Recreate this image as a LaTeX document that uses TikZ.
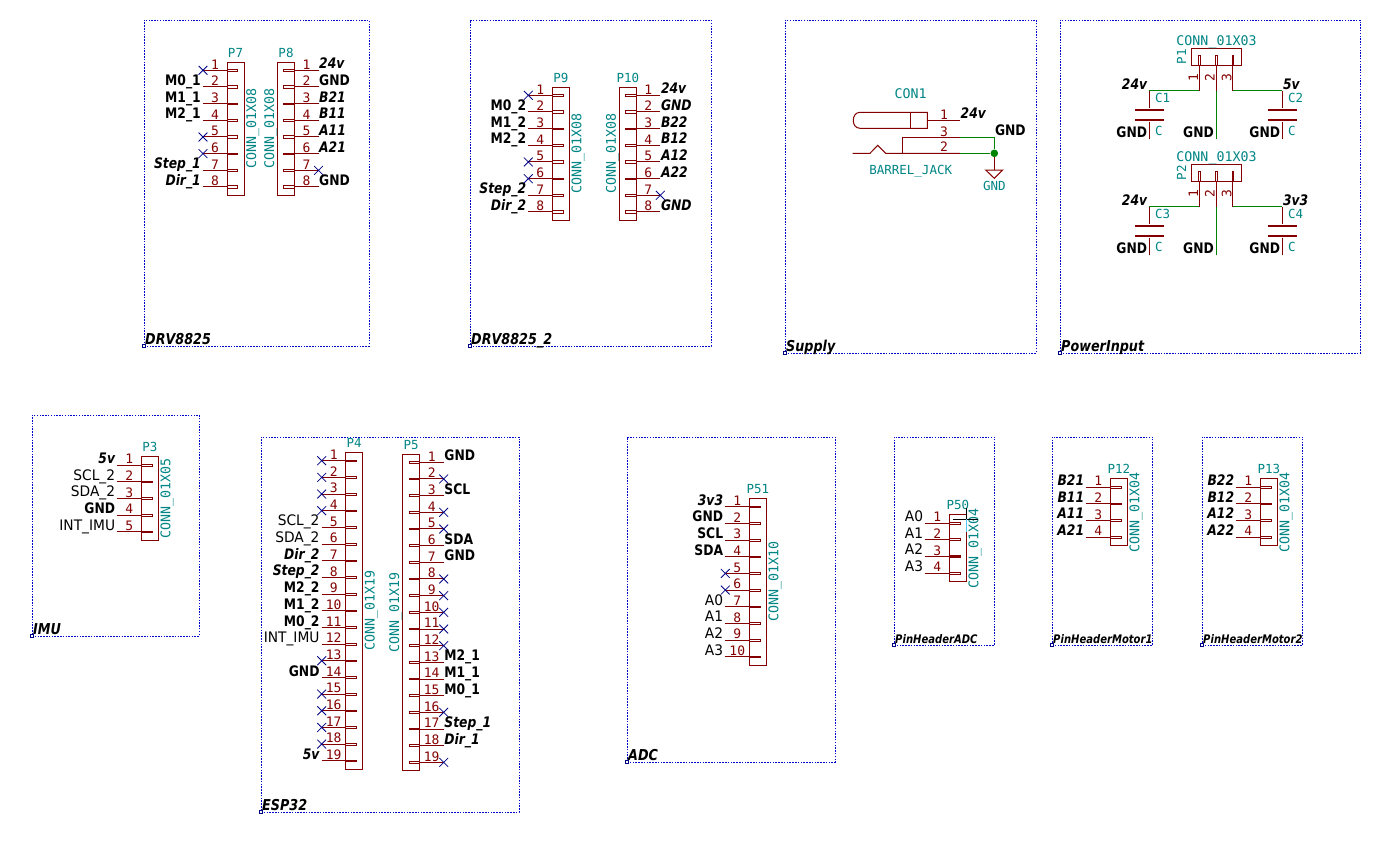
\documentclass[tikz,border=0pt]{standalone}
\usepackage{fontspec}
\setmainfont{DejaVu Sans Mono}
\newfontfamily\labfont[FakeStretch=0.85]{DejaVu Sans}
\newfontfamily\thinfont[FakeStretch=0.95]{DejaVu Sans}
\usetikzlibrary{shapes.misc}
\definecolor{schred}{HTML}{840000}
\definecolor{schteal}{HTML}{008484}
\definecolor{schgreen}{HTML}{008400}
\definecolor{schblue}{HTML}{0000C8}
\definecolor{schnavy}{HTML}{000084}

% body left x, first pin y, pins, which bars are solid (mod 3), value
\newcommand{\connleft}[6]{
    \pgfmathsetmacro\connh{#4*16.67}
    \pgfmathsetmacro\conntop{#3-8.3}
    \node(#1) [connbody, minimum width=17pt, minimum height=\connh pt]
        at (#2,\conntop) [anchor=north west] {};
    \node(#1ref) [refname] at ([yshift=5pt]#1.north) {#1};
    \node(#1val) [valname, rotate=90] at ([xshift=12pt]#1.east) {#6};
    \foreach \i in {1,...,#4} {
        \pgfmathsetmacro\piny{#3+(\i-1)*16.67}
        \pgfmathsetmacro\barkind{int(mod(\i,3))}
        \coordinate (#1-\i) at (#2-24,\piny);
        \coordinate (#1-\i-in) at (#2,\piny);
        \draw[pinline] (#1-\i) -- (#1-\i-in);
        \node(#1num\i) [pinnum] at ([yshift=1.3pt]#2-12,\piny) {\i};
        \ifnum\barkind=#5
            \node(#1bar\i) [pinbar, barfill, anchor=west] at (#1-\i-in) {};
        \else
            \node(#1bar\i) [pinbar, anchor=west] at (#1-\i-in) {};
        \fi
    }
}
\newcommand{\connright}[6]{
    \pgfmathsetmacro\connh{#4*16.67}
    \pgfmathsetmacro\conntop{#3-8.3}
    \node(#1) [connbody, minimum width=17pt, minimum height=\connh pt]
        at (#2,\conntop) [anchor=north west] {};
    \node(#1ref) [refname] at ([yshift=5pt]#1.north) {#1};
    \node(#1val) [valname, rotate=90] at ([xshift=-3.5pt]#1.west) {#6};
    \foreach \i in {1,...,#4} {
        \pgfmathsetmacro\piny{#3+(\i-1)*16.67}
        \pgfmathsetmacro\barkind{int(mod(\i,3))}
        \coordinate (#1-\i) at (#2+41,\piny);
        \coordinate (#1-\i-in) at (#2+17,\piny);
        \draw[pinline] (#1-\i-in) -- (#1-\i);
        \node(#1num\i) [pinnum] at ([yshift=1.3pt]#2+29,\piny) {\i};
        \ifnum\barkind=#5
            \node(#1bar\i) [pinbar, barfill, anchor=east] at (#1-\i-in) {};
        \else
            \node(#1bar\i) [pinbar, anchor=east] at (#1-\i-in) {};
        \fi
    }
}
\newcommand{\pinlabs}[3]{
    \foreach \i/\txt in {#3} {\node(#1lab\i) [#2] at (#1-\i) {\txt};}
}
\newcommand{\pinncs}[2]{
    \foreach \i in {#2} {\node(#1nc\i) [ncmark] at (#1-\i) {};}
}

\begin{document}
\begin{tikzpicture}[x=1pt,y=-1pt]
    \tikzstyle{sheet} = [rectangle, draw=schblue, line width=1pt, inner sep=0pt,
        outer sep=0pt, dash pattern=on 1.5pt off 1.3pt]
    \tikzstyle{sheetmark} = [rectangle, draw=schnavy, line width=0.8pt, fill=white,
        inner sep=0pt, minimum size=3.5pt]
    \tikzstyle{sheetname} = [anchor=base west, inner sep=0pt, xshift=1pt, yshift=2pt,
        font=\labfont\fontsize{15}{16}\selectfont\bfseries\itshape]
    \tikzstyle{sheetsmall} = [sheetname,
        font=\labfont\fontsize{11.8}{13}\selectfont\bfseries\itshape]
    \tikzstyle{connbody} = [rectangle, draw=schred, line width=1pt, inner sep=0pt,
        outer sep=0pt]
    \tikzstyle{refname} = [anchor=base, inner sep=0pt, text=schteal,
        font=\fontsize{12.5}{13}\selectfont]
    \tikzstyle{valname} = [refname, font=\fontsize{13.3}{14}\selectfont]
    \tikzstyle{pinline} = [draw=schred, line width=1pt]
    \tikzstyle{wire} = [draw=schgreen, line width=1pt]
    \tikzstyle{pinnum} = [anchor=base, inner sep=0pt, text=schred,
        font=\fontsize{13}{13}\selectfont]
    \tikzstyle{pinbar} = [rectangle, draw=schred, line width=0.8pt, inner sep=0pt,
        outer sep=0pt, minimum width=10.7pt, minimum height=2.2pt]
    \tikzstyle{barfill} = [fill=schred, minimum height=1.4pt]
    \tikzstyle{ncmark} = [cross out, draw=schnavy, line width=0.8pt, inner sep=0pt,
        minimum size=8pt]
    \tikzstyle{lab} = [inner sep=0pt, font=\labfont\fontsize{14.5}{15}\selectfont\bfseries]
    \tikzstyle{labit} = [lab, font=\labfont\fontsize{14.5}{15}\selectfont\bfseries\itshape]
    \tikzstyle{labthin} = [inner sep=0pt, font=\thinfont\fontsize{14.5}{15}\selectfont]
    \tikzstyle{toleft} = [anchor=base east, xshift=-2pt, yshift=1.4pt]
    \tikzstyle{toright} = [anchor=base west, xshift=0.5pt, yshift=1.4pt]
    \tikzstyle{capplate} = [rectangle, fill=schred, inner sep=0pt, minimum width=29pt,
        minimum height=2.8pt]
    \tikzstyle{junction} = [circle, fill=schgreen, inner sep=0pt, minimum size=7.6pt]

    \useasboundingbox (0,0) rectangle (1385,841);

    % sheets
    \foreach \n/\sx/\sy/\sw/\sh/\txt in {drva/144/20/225/326/DRV8825,
        drvb/470/20/241/326/DRV8825\_2, supply/785/20/251/333/Supply,
        power/1060/20/300/333/PowerInput, imu/32/415/167/221/IMU,
        esp/261/437/258/375/ESP32, adc/627/437/208/325/ADC} {
        \node(\n) [sheet, minimum width=\sw pt, minimum height=\sh pt]
            at (\sx,\sy) [anchor=north west] {};
        \node(\n name) [sheetname] at (\n.south west) {\txt};
        \node(\n mark) [sheetmark] at (\n.south west) {};
    }
    \foreach \n/\sx/\txt in {hadc/894/PinHeaderADC, hma/1052/PinHeaderMotor1,
        hmb/1202/PinHeaderMotor2} {
        \node(\n) [sheet, minimum width=100.5pt, minimum height=208pt]
            at (\sx,437) [anchor=north west] {};
        \node(\n name) [sheetsmall] at (\n.south west) {\txt};
        \node(\n mark) [sheetmark] at (\n.south west) {};
    }

    % DRV8825
    \connleft{P7}{227}{70.3}{8}{0}{CONN\_01X08}
    \pinncs{P7}{1,5,6}
    \pinlabs{P7}{lab,toleft}{2/M0\_1,3/M1\_1,4/M2\_1}
    \pinlabs{P7}{labit,toleft}{7/Step\_1,8/Dir\_1}
    \connright{P8}{277.5}{70.3}{8}{0}{CONN\_01X08}
    \pinncs{P8}{7}
    \pinlabs{P8}{lab,toright}{2/GND,8/GND}
    \pinlabs{P8}{labit,toright}{1/24v,3/B21,4/B11,5/A11,6/A21}

    % DRV8825_2
    \connleft{P9}{552.3}{95.3}{8}{0}{CONN\_01X08}
    \pinncs{P9}{1,5,6}
    \pinlabs{P9}{lab,toleft}{2/M0\_2,3/M1\_2,4/M2\_2}
    \pinlabs{P9}{labit,toleft}{7/Step\_2,8/Dir\_2}
    \connright{P10}{619.3}{95.3}{8}{0}{CONN\_01X08}
    \pinncs{P10}{7}
    \pinlabs{P10}{labit,toright}{1/24v,2/GND,3/B22,4/B12,5/A12,6/A22,8/GND}

    % Supply
    \node(CON1) [valname] at (910.7,98.3) {CON1};
    \node(CON1val) [refname] at (910.7,174.3) {BARREL\_JACK};
    \coordinate (jackend) at (927.3,120.3);
    \coordinate (jack1) at (960,120.3);
    \coordinate (jack3a) at (902.3,137.3);
    \coordinate (jack3) at (960,137.3);
    \coordinate (jack2a) at (852.7,153.3);
    \coordinate (jack2b) at (902.3,153.3);
    \coordinate (jack2) at (960,153.3);
    \coordinate (jackcorner) at (994.3,137.3);
    \coordinate (gndtop) at (994.3,170);
    \draw[pinline] (910.7,112.3) -- (910.7,128.3);
    \draw[pinline] (927.3,128.3) -- (860,128.3)
        .. controls (851,128.3) and (851,112.3) .. (860,112.3)
        -- (927.3,112.3) -- cycle;
    \draw[pinline] (jackend) -- (jack1);
    \draw[pinline] (jack2b) -- (jack3a) -- (jack3);
    \draw[pinline] (jack2a) -- (870,153.3) -- (877.7,145.3) -- (885.7,153.3) -- (jack2);
    \node(jackn1) [pinnum] at (944,119) {1};
    \node(jackn3) [pinnum] at (944,136) {3};
    \node(jackn2) [pinnum] at (944,151.7) {2};
    \node(jackgnd) [junction] at (994.3,153.3) {};
    \draw[wire] (jack3) -- (jackcorner) -- (jackgnd);
    \draw[wire] (jack2) -- (jackgnd);
    \draw[pinline] (jackgnd) -- (gndtop);
    \draw[pinline] (985.7,170) -- (1002.7,170) -- (994.3,178.3) -- cycle;
    \node(gndval) [refname] at (994.3,190.7) {GND};
    \node(jacklab1) [labit, toright] at (jack1) {24v};
    \node(jacklab2) [lab, toright] at (jackcorner) {GND};

    % PowerInput
    \foreach \conn/\ca/\cb/\volt/\dy in {P1/C1/C2/5v/0, P2/C3/C4/3v3/116} {
        \node(\conn) [connbody, minimum width=49.6pt, minimum height=16.7pt]
            at (1216.5,56.7+\dy) {};
        \node(\conn ref) [refname, rotate=90] at (1186,56.7+\dy) {\conn};
        \node(\conn val) [valname] at (1216.5,45+\dy) {CONN\_01X03};
        \foreach \i/\px in {1/1199.3,2/1216,3/1232.7} {
            \coordinate (\conn-\i) at (\px,90.7+\dy);
            \coordinate (\conn-\i-in) at (\px,65+\dy);
            \draw[pinline] (\conn-\i-in) -- (\conn-\i);
            \node(\conn num\i) [pinnum, rotate=90] at (\px-1.3,78+\dy) {\i};
            \ifnum\i=3
                \node(\conn bar\i) [pinbar, barfill, minimum width=9.5pt, rotate=90,
                    anchor=west] at (\conn-\i-in) {};
            \else
                \node(\conn bar\i) [pinbar, minimum width=9.5pt, rotate=90,
                    anchor=west] at (\conn-\i-in) {};
            \fi
        }
        \coordinate (\ca-w) at (1149.3,90.7+\dy);
        \coordinate (\cb-w) at (1282.3,90.7+\dy);
        \coordinate (\ca-g) at (1149.3,139+\dy);
        \coordinate (\cb-g) at (1282.3,139+\dy);
        \coordinate (\conn-g) at (1216,139+\dy);
        \node(\ca top) [capplate] at (1149.3,110+\dy) {};
        \node(\ca bot) [capplate] at (1149.3,120+\dy) {};
        \node(\cb top) [capplate] at (1282.3,110+\dy) {};
        \node(\cb bot) [capplate] at (1282.3,120+\dy) {};
        \draw[pinline] (\ca-w) -- (\ca top);
        \draw[pinline] (\ca bot) -- (\ca-g);
        \draw[pinline] (\cb-w) -- (\cb top);
        \draw[pinline] (\cb bot) -- (\cb-g);
        \draw[wire] (\conn-1) -- (\ca-w);
        \draw[wire] (\conn-3) -- (\cb-w);
        \draw[wire] (\conn-2) -- (\conn-g);
        \node(\ca ref) [refname, anchor=base west] at (1155,102+\dy) {\ca};
        \node(\cb ref) [refname, anchor=base west] at (1288,102+\dy) {\cb};
        \node(\ca val) [refname, anchor=base west] at (1155,135+\dy) {C};
        \node(\cb val) [refname, anchor=base west] at (1288,135+\dy) {C};
        \node(\ca lab) [labit, toleft] at (\ca-w) {24v};
        \node(\cb lab) [labit, toright] at (\cb-w) {\volt};
        \node(\ca gnd) [lab, toleft] at (\ca-g) {GND};
        \node(\conn gnd) [lab, toleft] at (\conn-g) {GND};
        \node(\cb gnd) [lab, toleft] at (\cb-g) {GND};
    }

    % IMU
    \connleft{P3}{141.3}{465}{5}{2}{CONN\_01X05}
    \pinlabs{P3}{labit,toleft}{1/5v}
    \pinlabs{P3}{lab,toleft}{4/GND}
    \pinlabs{P3}{labthin,toleft}{2/SCL\_2,3/SDA\_2,5/INT\_IMU}

    % ESP32
    \connleft{P4}{345.7}{460.7}{19}{1}{CONN\_01X19}
    \pinncs{P4}{1,2,3,4,13,15,16,17,18}
    \pinlabs{P4}{labthin,toleft}{5/SCL\_2,6/SDA\_2,12/INT\_IMU}
    \pinlabs{P4}{labit,toleft}{7/Dir\_2,8/Step\_2,19/5v}
    \pinlabs{P4}{lab,toleft}{9/M2\_2,10/M1\_2,11/M0\_2,14/GND}
    \connright{P5}{402.7}{462.3}{19}{2}{CONN\_01X19}
    \pinncs{P5}{2,4,5,8,9,10,11,12,16,19}
    \pinlabs{P5}{lab,toright}{1/GND,3/SCL,6/SDA,7/GND,13/M2\_1,14/M1\_1,15/M0\_1}
    \pinlabs{P5}{labit,toright}{17/Step\_1,18/Dir\_1}

    % ADC
    \connleft{P51}{749.3}{506.7}{10}{1}{CONN\_01X10}
    \pinncs{P51}{5,6}
    \pinlabs{P51}{labit,toleft}{1/3v3}
    \pinlabs{P51}{lab,toleft}{2/GND,3/SCL,4/SDA}
    \pinlabs{P51}{labthin,toleft}{7/A0,8/A1,9/A2,10/A3}

    % pin headers
    \connleft{P50}{949.3}{523}{4}{0}{CONN\_01X04}
    \pinlabs{P50}{labthin,toleft}{1/A0,2/A1,3/A2,4/A3}
    \connleft{P12}{1110.3}{487}{4}{2}{CONN\_01X04}
    \pinlabs{P12}{labit,toleft}{1/B21,2/B11,3/A11,4/A21}
    \connleft{P13}{1260.3}{487}{4}{2}{CONN\_01X04}
    \pinlabs{P13}{labit,toleft}{1/B22,2/B12,3/A12,4/A22}

    % cursor left on P50
    \draw[black, line width=0.8pt] (953.3,519) -- (977.7,519);
    \draw[black, line width=0.8pt] (966,508) -- (966,519);
    \draw[cyan!70, line width=1pt] (966.3,519) -- (966.3,531.7);
\end{tikzpicture}
\end{document}
